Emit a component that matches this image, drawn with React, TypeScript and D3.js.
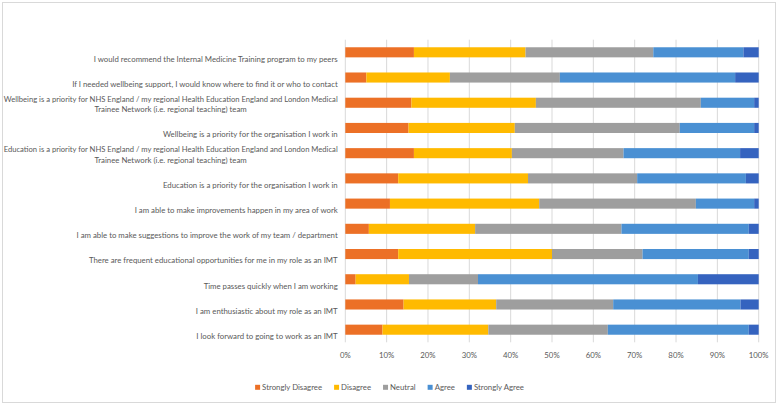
import React, { useEffect, useRef } from "react";
import * as d3 from "d3";

const categories = [
  "I would recommend the Internal Medicine Training program to my peers",
  "If I needed wellbeing support, I would know where to find it or who to contact",
  "Wellbeing is a priority for NHS England / my regional Health Education England and London Medical Trainee Network (i.e. regional teaching) team",
  "Wellbeing is a priority for the organisation I work in",
  "Education is a priority for NHS England / my regional Health Education England and London Medical Trainee Network (i.e. regional teaching) team",
  "Education is a priority for the organisation I work in",
  "I am able to make improvements happen in my area of work",
  "I am able to make suggestions to improve the work of my team / department",
  "There are frequent educational opportunities for me in my role as an IMT",
  "Time passes quickly when I am working",
  "I am enthusiastic about my role as an IMT",
  "I look forward to going to work as an IMT",
];

const seriesNames = ["Strongly Disagree", "Disagree", "Neutral", "Agree", "Strongly Agree"];
const seriesColors = ["#EC7026", "#FFBA00", "#9E9E9E", "#4A90D3", "#3563BF"];

const stronglyDisagree = [16.6, 5.1, 16.0, 15.3, 16.6, 12.8, 10.8, 5.7, 12.8, 2.5, 14.1, 9.0];
const disagree = [27.0, 20.2, 30.1, 25.7, 23.7, 31.4, 36.1, 25.7, 37.2, 12.9, 22.4, 25.6];
const neutral = [30.9, 26.6, 39.9, 39.9, 27.0, 26.4, 37.9, 35.4, 21.9, 16.7, 28.3, 28.9];
const agree = [21.8, 42.4, 12.9, 18.0, 28.2, 26.3, 14.1, 30.8, 25.7, 53.2, 30.8, 34.1];
const stronglyAgree = [3.7, 5.7, 1.1, 1.1, 4.5, 3.1, 1.1, 2.4, 2.4, 14.7, 4.4, 2.4];

const tickValues = [0, 0.1, 0.2, 0.3, 0.4, 0.5, 0.6, 0.7, 0.8, 0.9, 1.0];

const W = 777;
const H = 404;
const FONT = "Lato, 'Open Sans', sans-serif";
const TEXT = "#595959";
const FS = 7.8;

export default function App() {
  const ref = useRef<SVGSVGElement | null>(null);

  useEffect(() => {
    const svg = d3.select(ref.current);
    svg.selectAll("*").remove();

    svg
      .append("rect")
      .attr("x", 2.5)
      .attr("y", 2.5)
      .attr("width", W - 4)
      .attr("height", H - 4)
      .attr("fill", "#fff")
      .attr("stroke", "#d9d9d9");

    const x = d3.scaleLinear().domain([0, 1]).range([345.3, 758.7]);
    const y = d3
      .scaleBand<string>()
      .domain(categories)
      .range([39.7, 342.3])
      .paddingInner(0.6)
      .paddingOuter(0.3);

    // gridlines
    svg
      .append("g")
      .selectAll("line")
      .data(tickValues)
      .join("line")
      .attr("x1", (d) => x(d))
      .attr("x2", (d) => x(d))
      .attr("y1", 39.7)
      .attr("y2", 342.3)
      .attr("stroke", "#d9d9d9")
      .attr("stroke-width", 1);

    // stacked data
    const series = [stronglyDisagree, disagree, neutral, agree, stronglyAgree];
    const rows = categories.map((c, i) => {
      const total = d3.sum(series, (s) => s[i]);
      const obj: any = { cat: c };
      seriesNames.forEach((n, k) => (obj[n] = series[k][i] / total));
      return obj;
    });
    const stacked = d3.stack<any>().keys(seriesNames)(rows);

    const bars = svg.append("g");
    stacked.forEach((layer, k) => {
      bars
        .append("g")
        .attr("fill", seriesColors[k])
        .selectAll("rect")
        .data(layer)
        .join("rect")
        .attr("x", (d) => x(d[0]))
        .attr("width", (d) => x(d[1]) - x(d[0]))
        .attr("y", (d) => y(d.data.cat) as number)
        .attr("height", y.bandwidth());
    });

    // category labels
    const labelRight = 337.7;
    const wrapW = 350;
    const fitW = 334;
    const lineH = 10.2;
    const labG = svg
      .append("g")
      .attr("font-family", FONT)
      .attr("font-size", FS)
      .attr("fill", TEXT);
    const measure = labG.append("text");
    const len = (s: string) => {
      measure.text(s);
      return (measure.node() as SVGTextElement).getComputedTextLength();
    };
    categories.forEach((c) => {
      const words = c.split(" ");
      const lines: string[] = [];
      let cur = "";
      words.forEach((w) => {
        const test = cur ? cur + " " + w : w;
        if (len(test) > wrapW && cur) {
          lines.push(cur);
          cur = w;
        } else cur = test;
      });
      if (cur) lines.push(cur);
      const widths = lines.map((l) => Math.min(len(l), fitW));
      const bw = d3.max(widths) as number;
      const cx = labelRight - bw / 2;
      const cy = (y(c) as number) + y.bandwidth() / 2;
      const n = lines.length;
      lines.forEach((l, i) => {
        const t = labG
          .append("text")
          .attr("text-anchor", "middle")
          .attr("x", cx)
          .attr("y", cy + 6.6 - (n - 1 - i) * lineH)
          .attr("dy", "0.35em")
          .text(l);
        if (len(l) > fitW) {
          t.attr("textLength", fitW).attr("lengthAdjust", "spacingAndGlyphs");
        }
      });
    });
    measure.remove();

    // x tick labels
    svg
      .append("g")
      .attr("font-family", FONT)
      .attr("font-size", FS)
      .attr("fill", TEXT)
      .selectAll("text")
      .data(tickValues)
      .join("text")
      .attr("x", (d) => x(d))
      .attr("y", 355)
      .attr("dy", "0.35em")
      .attr("text-anchor", "middle")
      .text((d) => d3.format(".0%")(d));

    // legend
    const leg = svg
      .append("g")
      .attr("font-family", FONT)
      .attr("font-size", FS)
      .attr("fill", TEXT);
    const items = seriesNames.map((n, k) => {
      const g = leg.append("g");
      g.append("rect").attr("width", 5).attr("height", 5).attr("y", -2.5).attr("fill", seriesColors[k]);
      const tx = g.append("text").attr("x", 7).attr("dy", "0.35em").text(n);
      const w = 7 + (tx.node() as SVGTextElement).getComputedTextLength();
      return { g, w };
    });
    const gap = 12;
    const total = d3.sum(items, (d) => d.w) + gap * (items.length - 1);
    let pos = 389.5 - total / 2;
    items.forEach((it) => {
      it.g.attr("transform", `translate(${pos},387.3)`);
      pos += it.w + gap;
    });
  }, []);

  return (
    <svg
      ref={ref}
      width={W}
      height={H}
      style={{ display: "block", position: "absolute", left: 0, top: 0 }}
    />
  );
}
